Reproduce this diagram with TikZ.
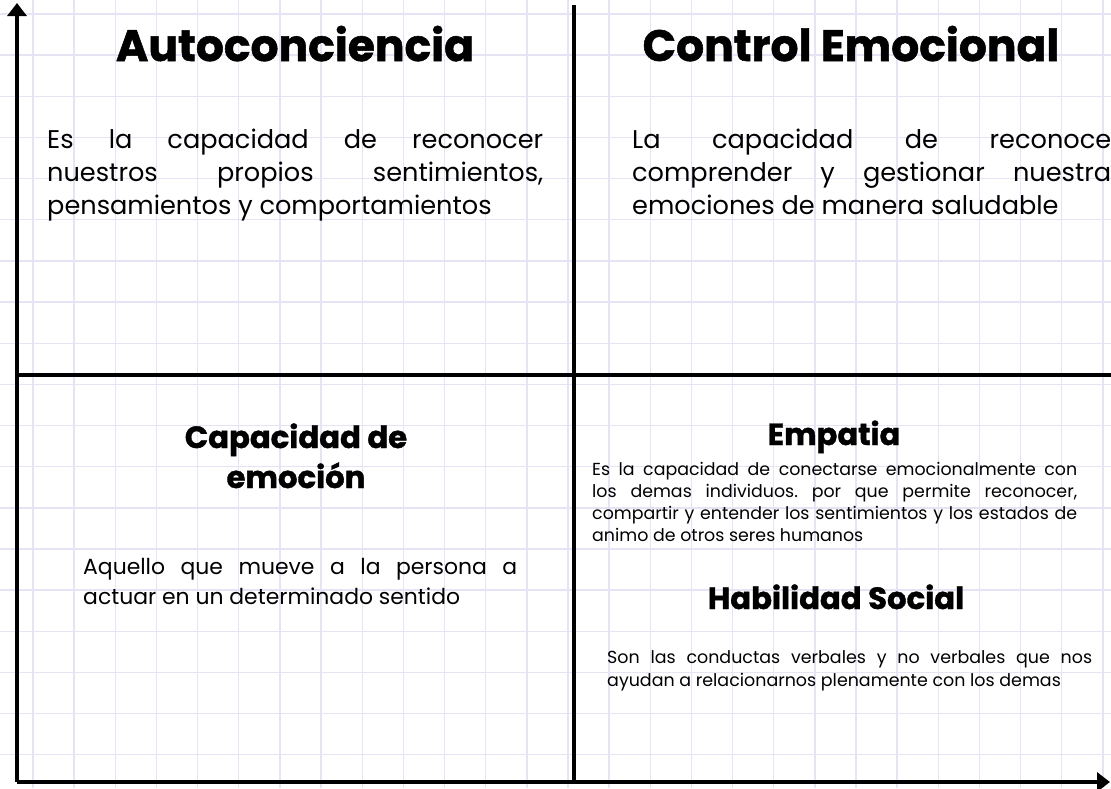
\documentclass[tikz,border=0pt]{standalone}
\usepackage{fontspec}
\setmainfont{Poppins}[BoldFeatures={FakeBold=1.2}]
\usetikzlibrary{arrows.meta}
\definecolor{gridc}{RGB}{228,228,244}
\frenchspacing
\newcommand{\jline}[2]{\makebox[#1][s]{#2}}
\tikzset{
  gridline/.style={draw=gridc, line width=1.4pt},
  axisline/.style={line width=4pt, line join=round, -{Triangle[width=19pt,length=13pt]}},
  divline/.style={line width=4pt},
  heading/.style={inner sep=0pt, anchor=base, align=center},
  body/.style={inner sep=0pt, anchor=base west, align=left},
}
\begin{document}
\begin{tikzpicture}[x=1pt,y=-1pt]
\clip (0,0) rectangle (1111,788);
\fill[white] (0,0) rectangle (1111,788);
\foreach \i in {0,...,26} \draw[gridline] ({33+41.15*\i},0) -- ++(0,788);
\foreach \i in {0,...,18} \draw[gridline] (0,{14+41.15*\i}) -- ++(1111,0);

\coordinate (origin) at (17,782);
\coordinate (ytop) at (17,3);
\coordinate (xend) at (1110,782);
\coordinate (ctop) at (574,5);
\coordinate (cbot) at (574,782);
\coordinate (mleft) at (17,375);
\coordinate (mright) at (1111,375);

\draw[divline] (ctop) -- (cbot);
\draw[divline] (mleft) -- (mright);
\draw[axisline] (origin) -- (ytop);
\draw[axisline] (origin) -- (xend);

\node[heading, font=\fontsize{44}{48}\selectfont\bfseries] (auto) at (295,61) {Autoconciencia};
\node[heading, font=\fontsize{44}{48}\selectfont\bfseries] (ctrl) at (851,61) {Control Emocional};

% anchor base = baseline of the last line
\node[body, font=\fontsize{25.6}{33}\selectfont] (autotxt) at (47,214)
  {\jline{496pt}{Es la capacidad de reconocer}\\
   \jline{496pt}{nuestros propios sentimientos,}\\
   pensamientos y comportamientos};
\node[body, font=\fontsize{25.6}{33}\selectfont] (ctrltxt) at (632,214)
  {\jline{479pt}{La capacidad de reconoce}\\
   \jline{479pt}{comprender y gestionar nuestra}\\
   emociones de manera saludable};

\node[heading, font=\fontsize{30.7}{40}\selectfont\bfseries] (capa) at (296,488)
  {Capacidad de\\emoción};
\node[body, font=\fontsize{21.9}{30}\selectfont] (capatxt) at (83,604)
  {\jline{434pt}{Aquello que mueve a la persona a}\\
   actuar en un determinado sentido};

\node[heading, font=\fontsize{30.6}{34}\selectfont\bfseries] (emp) at (834,445) {Empatia};
\node[body, font=\fontsize{17.4}{21.7}\selectfont] (emptxt) at (592,541)
  {\jline{485pt}{Es la capacidad de conectarse emocionalmente con}\\
   \jline{485pt}{los demas individuos. por que permite reconocer,}\\
   \jline{485pt}{compartir y entender los sentimientos y los estados de}\\
   animo de otros seres humanos};

\node[heading, font=\fontsize{30.7}{34}\selectfont\bfseries] (hab) at (836,609) {Habilidad Social};
\node[body, font=\fontsize{17.45}{23}\selectfont] (habtxt) at (607,686)
  {\jline{485pt}{Son las conductas verbales y no verbales que nos}\\
   ayudan a relacionarnos plenamente con los demas};
\end{tikzpicture}
\end{document}
